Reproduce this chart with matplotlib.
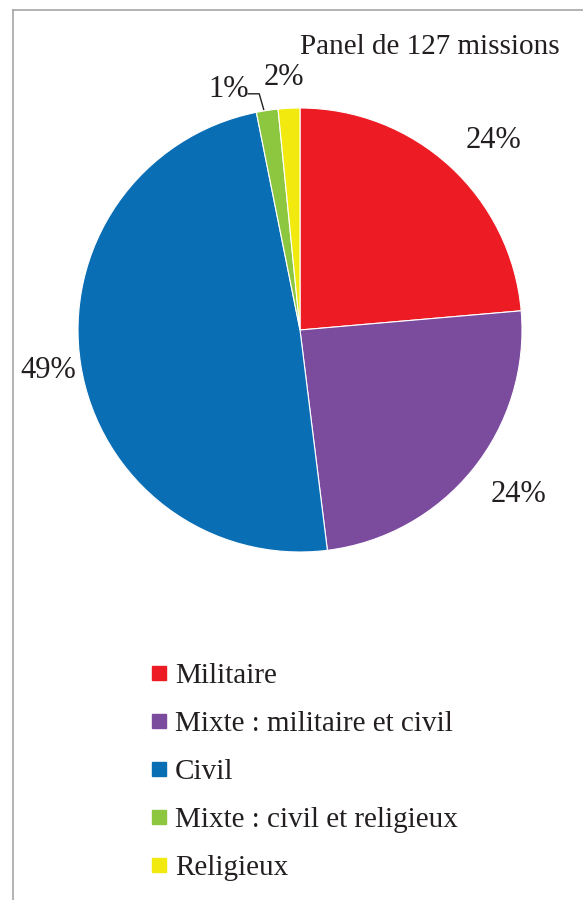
import numpy as np
import matplotlib
matplotlib.use("Agg")
import matplotlib.pyplot as plt
from matplotlib.lines import Line2D

plt.rcParams['font.family'] = ['Liberation Serif', 'DejaVu Serif']

# data (panel of 127 missions)
categories = ["Militaire", "Mixte : militaire et civil", "Civil",
              "Mixte : civil et religieux", "Religieux"]
counts = [30, 31, 62, 2, 2]
pct_labels = ["24%", "24%", "49%", "1%", "2%"]
colors = ["#ED1C24", "#7B4B9E", "#0A6EB4", "#8DC63F", "#F2EA0E"]

W, H = 583, 900
fig = plt.figure(figsize=(W / 100, H / 100), dpi=100)

# pie centre / radius in pixels
cx, cy, R = 300, 330, 222
ax = fig.add_axes([(cx - R) / W, (H - cy - R) / H, 2 * R / W, 2 * R / H])
wedges, _ = ax.pie(counts, colors=colors, startangle=90, counterclock=False,
                   radius=1.0, wedgeprops=dict(edgecolor="white", linewidth=0.8))
ax.set_xlim(-1, 1)
ax.set_ylim(-1, 1)
ax.set_aspect("equal")
ax.axis("off")

# label placement: radial distance and angular shift (deg) per slice
dist = [1.22, 1.23, 1.15, 1.13, 1.14]
shift = [-3, 2, 0, 8, 0.8]
txt = dict(fontsize=22, color="#231F20", ha="center", va="center")
for w, lab, d, s in zip(wedges, pct_labels, dist, shift):
    ang = np.deg2rad((w.theta1 + w.theta2) / 2 + s)
    ax.text(d * np.cos(ang), d * np.sin(ang), lab, clip_on=False, **txt)

# leader line for the small green slice
g = wedges[3]
ga = np.deg2rad((g.theta1 + g.theta2) / 2)
x0, y0 = 1.005 * np.cos(ga), 1.005 * np.sin(ga)
ax.plot([x0 - 0.015, x0 - 0.035, x0 - 0.085], [y0, y0 + 0.07, y0 + 0.07],
        color="#231F20", lw=1.0, clip_on=False)

fig.text(560 / W, 1 - 47 / H, "Panel de 127 missions", fontsize=21,
         color="#231F20", ha="right", va="center")

handles = [Line2D([0], [0], marker="s", linestyle="none", markersize=10,
                  markerfacecolor=c, markeredgecolor=c) for c in colors]
fig.legend(handles, categories, loc="upper left",
           bbox_to_anchor=(150 / W, 1 - 663 / H), frameon=False,
           fontsize=21, labelspacing=0.74, handlelength=0.6,
           handletextpad=0.25, borderpad=0, borderaxespad=0,
           labelcolor="#231F20")

# chart frame (grey border, cut by the image edges)
fig.add_artist(Line2D([13 / W, 13 / W], [0, 1 - 10 / H], color="#A6A6A6",
                      lw=1.2, transform=fig.transFigure))
fig.add_artist(Line2D([13 / W, 1], [1 - 10 / H, 1 - 10 / H], color="#A6A6A6",
                      lw=1.2, transform=fig.transFigure))

fig.savefig("out.png", dpi=100, facecolor="white")
